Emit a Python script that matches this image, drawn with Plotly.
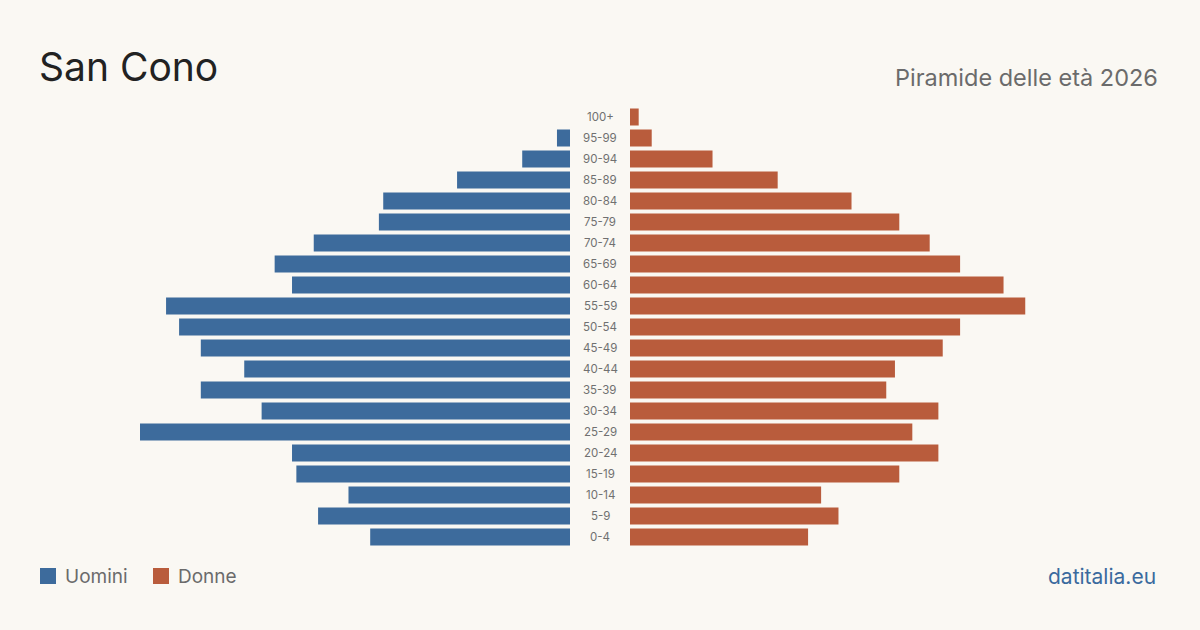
import plotly.graph_objects as go

age_groups = ["0-4", "5-9", "10-14", "15-19", "20-24", "25-29", "30-34", "35-39",
              "40-44", "45-49", "50-54", "55-59", "60-64", "65-69", "70-74",
              "75-79", "80-84", "85-89", "90-94", "95-99", "100+"]
men = [46, 58, 51, 63, 64, 99, 71, 85, 75, 85, 90, 93, 64, 68, 59, 44, 43, 26, 11, 3, 0]
women = [41, 48, 44, 62, 71, 65, 71, 59, 61, 72, 76, 91, 86, 76, 69, 62, 51, 34, 19, 5, 2]

title = "San Cono"
subtitle = "Piramide delle età 2026"
legend_labels = ["Uomini", "Donne"]
source = "datitalia.eu"

W, H = 1200, 630
BLUE = "#3d6b9c"
ORANGE = "#b95c3c"
BG = "#faf8f3"
FONT = "Inter"

xmax = 99
y_dom = [1 - 547.5 / H, 1 - 106.5 / H]
y_rng = [-0.5, len(age_groups) - 0.5]

fig = go.Figure()
fig.add_trace(go.Bar(y=age_groups, x=men, orientation="h",
                     marker=dict(color=BLUE, line=dict(width=0)),
                     xaxis="x", yaxis="y", name=legend_labels[0], showlegend=False,
                     hoverinfo="x+y"))
fig.add_trace(go.Bar(y=age_groups, x=women, orientation="h",
                     marker=dict(color=ORANGE, line=dict(width=0)),
                     xaxis="x2", yaxis="y2", name=legend_labels[1], showlegend=False,
                     hoverinfo="x+y"))

annotations = []
for ag in age_groups:
    annotations.append(dict(x=0.5, xref="paper", y=ag, yref="y", text=ag,
                            showarrow=False, xanchor="center", yanchor="middle",
                            font=dict(family=FONT, size=11.5, color="#707070")))

annotations += [
    dict(x=37 / W, y=1 - 67 / H, xref="paper", yref="paper", text=title,
         showarrow=False, xanchor="left", yanchor="middle",
         font=dict(family=FONT, size=39, color="#222222")),
    dict(x=1160 / W, y=1 - 77 / H, xref="paper", yref="paper", text=subtitle,
         showarrow=False, xanchor="right", yanchor="middle",
         font=dict(family=FONT, size=23.5, color="#6b6b6b")),
    dict(x=63 / W, y=1 - 576 / H, xref="paper", yref="paper", text=legend_labels[0],
         showarrow=False, xanchor="left", yanchor="middle",
         font=dict(family=FONT, size=19, color="#6b6b6b")),
    dict(x=176 / W, y=1 - 576 / H, xref="paper", yref="paper", text=legend_labels[1],
         showarrow=False, xanchor="left", yanchor="middle",
         font=dict(family=FONT, size=19, color="#6b6b6b")),
    dict(x=1158 / W, y=1 - 576 / H, xref="paper", yref="paper", text=source,
         showarrow=False, xanchor="right", yanchor="middle",
         font=dict(family=FONT, size=21, color="#3a6a9e")),
]

shapes = [
    dict(type="rect", xref="paper", yref="paper", x0=40 / W, x1=56 / W,
         y0=1 - 584 / H, y1=1 - 568 / H, fillcolor=BLUE, line=dict(width=0)),
    dict(type="rect", xref="paper", yref="paper", x0=153 / W, x1=169 / W,
         y0=1 - 584 / H, y1=1 - 568 / H, fillcolor=ORANGE, line=dict(width=0)),
]

axis_common = dict(showgrid=False, zeroline=False, showticklabels=False,
                   showline=False, fixedrange=True)

fig.update_layout(
    width=W, height=H,
    margin=dict(l=0, r=0, t=0, b=0),
    paper_bgcolor=BG, plot_bgcolor=BG,
    bargap=0.19,
    xaxis=dict(domain=[140 / W, 570 / W], range=[xmax, 0], **axis_common),
    xaxis2=dict(domain=[630 / W, 1060 / W], range=[0, xmax], **axis_common),
    yaxis=dict(domain=y_dom, categoryorder="array", categoryarray=age_groups,
               range=y_rng, anchor="x", **axis_common),
    yaxis2=dict(domain=y_dom, categoryorder="array", categoryarray=age_groups,
                range=y_rng, anchor="x2", matches="y", **axis_common),
    annotations=annotations,
    shapes=shapes,
    font=dict(family=FONT),
)

fig.write_html("out.html")
